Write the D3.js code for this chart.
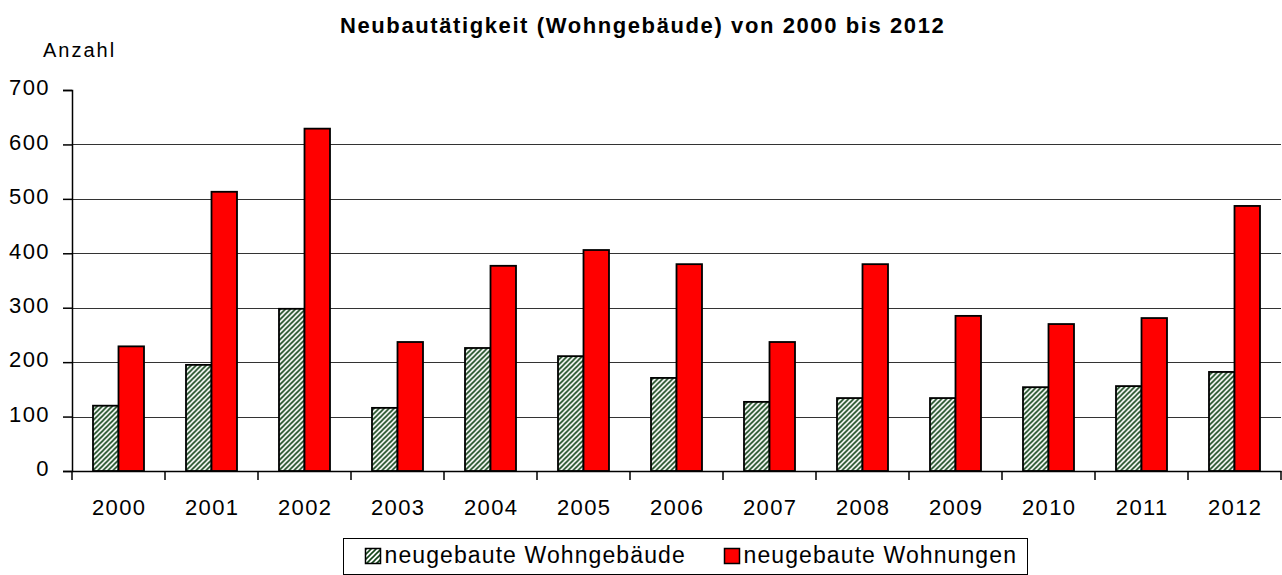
<!DOCTYPE html>
<html>
<head>
	<meta charset="utf-8">
	<title>Neubautätigkeit</title>
	<script src="https://d3js.org/d3.v7.min.js"></script>
	<style>
		body { margin: 0; background: #fff; }
		text { font-family: "Liberation Sans", Arial, sans-serif; }
	</style>
</head>
<body>
	<div id="chart"></div>
	<script>
	var years = ["2000", "2001", "2002", "2003", "2004", "2005", "2006",
		"2007", "2008", "2009", "2010", "2011", "2012"];
	var gebaeude = [120, 195, 298, 116, 226, 211, 171, 127, 134, 134, 154, 156, 182];
	var wohnungen = [229, 513, 629, 237, 377, 406, 380, 237, 380, 285, 270, 281, 487];
	var seriesNames = ["neugebaute Wohngebäude", "neugebaute Wohnungen"];
	var yTicks = [0, 100, 200, 300, 400, 500, 600, 700];

	var width = 1282, height = 575;
	var plotLeft = 72, plotRight = 1281, plotTop = 90, plotBottom = 471;

	var svg = d3.select("#chart").append("svg")
		.attr("width", width)
		.attr("height", height);

	// hatch pattern (dark green diagonals on white)
	var defs = svg.append("defs");
	var pat = defs.append("pattern")
		.attr("id", "hatch")
		.attr("patternUnits", "userSpaceOnUse")
		.attr("width", 5).attr("height", 5);
	pat.append("rect").attr("width", 5).attr("height", 5).attr("fill", "#ffffff");
	pat.append("path")
		.attr("d", "M-1,1 l2,-2 M0,5 l5,-5 M4,6 l2,-2")
		.attr("stroke", "#14461a")
		.attr("stroke-width", 1.6);

	var x = d3.scaleBand().domain(years).range([plotLeft, plotRight]);
	var y = d3.scaleLinear().domain([0, 700]).range([plotBottom, plotTop]);
	var barW = 25.5;

	// gridlines
	svg.append("g").selectAll("line")
		.data(yTicks.filter(function(d) { return d > 0 && d < 700; }))
		.enter().append("line")
		.attr("x1", plotLeft).attr("x2", plotRight)
		.attr("y1", function(d) { return Math.round(y(d)) + 0.5; })
		.attr("y2", function(d) { return Math.round(y(d)) + 0.5; })
		.attr("stroke", "#333").attr("stroke-width", 1);

	// y axis
	var yAxis = svg.append("g")
		.attr("transform", "translate(" + plotLeft + ",0)")
		.call(d3.axisLeft(y).tickValues(yTicks).tickSize(9).tickPadding(13));
	yAxis.select(".domain").attr("stroke", "#000").attr("stroke-width", 1.5);
	yAxis.selectAll("line").attr("stroke", "#000").attr("stroke-width", 1.5);
	yAxis.selectAll("text").attr("font-size", 22).attr("fill", "#000")
		.attr("letter-spacing", 1.4).attr("dy", "0.22em")
		.attr("font-family", "Liberation Sans, Arial, sans-serif");

	// bars
	var groups = svg.append("g").selectAll("g")
		.data(years).enter().append("g")
		.attr("transform", function(d) {
			return "translate(" + (x(d) + x.bandwidth() / 2) + ",0)";
		});
	groups.append("rect")
		.attr("x", -barW)
		.attr("y", function(d, i) { return y(gebaeude[i]); })
		.attr("width", barW)
		.attr("height", function(d, i) { return plotBottom - y(gebaeude[i]); })
		.attr("fill", "url(#hatch)")
		.attr("stroke", "#000").attr("stroke-width", 1.8);
	groups.append("rect")
		.attr("x", 0)
		.attr("y", function(d, i) { return y(wohnungen[i]); })
		.attr("width", barW)
		.attr("height", function(d, i) { return plotBottom - y(wohnungen[i]); })
		.attr("fill", "#ff0000")
		.attr("stroke", "#000").attr("stroke-width", 1.8);

	// x axis
	var xAxis = svg.append("g")
		.attr("transform", "translate(0," + plotBottom + ")")
		.call(d3.axisBottom(x).tickSize(0).tickPadding(28));
	xAxis.select(".domain").attr("stroke", "#000").attr("stroke-width", 1.5);
	xAxis.selectAll("text").attr("font-size", 22).attr("fill", "#000")
		.attr("letter-spacing", 1.4).attr("dx", 0.7)
		.attr("font-family", "Liberation Sans, Arial, sans-serif");
	xAxis.selectAll(".sep")
		.data(years.concat(["end"])).enter().append("line")
		.attr("class", "sep")
		.attr("x1", function(d, i) { return plotLeft + i * x.step(); })
		.attr("x2", function(d, i) { return plotLeft + i * x.step(); })
		.attr("y1", 0).attr("y2", 9)
		.attr("stroke", "#000").attr("stroke-width", 1.5);

	// title
	svg.append("text")
		.attr("x", 340).attr("y", 33)
		.attr("font-size", 22).attr("font-weight", "bold")
		.attr("letter-spacing", 1.6)
		.text("Neubautätigkeit (Wohngebäude) von 2000 bis 2012");

	svg.append("text")
		.attr("x", 43).attr("y", 57)
		.attr("font-size", 20)
		.attr("letter-spacing", 2)
		.text("Anzahl");

	// legend
	var lg = svg.append("g");
	lg.append("rect")
		.attr("x", 343.5).attr("y", 538.5)
		.attr("width", 684).attr("height", 36)
		.attr("fill", "#fff").attr("stroke", "#000").attr("stroke-width", 1);
	var items = [
		{ name: seriesNames[0], fill: "url(#hatch)", x: 365.5 },
		{ name: seriesNames[1], fill: "#ff0000", x: 724.5 }
	];
	items.forEach(function(it) {
		lg.append("rect")
			.attr("x", it.x).attr("y", 548.5)
			.attr("width", 15).attr("height", 15)
			.attr("fill", it.fill)
			.attr("stroke", "#000").attr("stroke-width", 1.5);
		lg.append("text")
			.attr("x", it.x + 19).attr("y", 563)
			.attr("font-size", 23)
			.attr("letter-spacing", 1.1)
			.text(it.name);
	});
	</script>
</body>
</html>
